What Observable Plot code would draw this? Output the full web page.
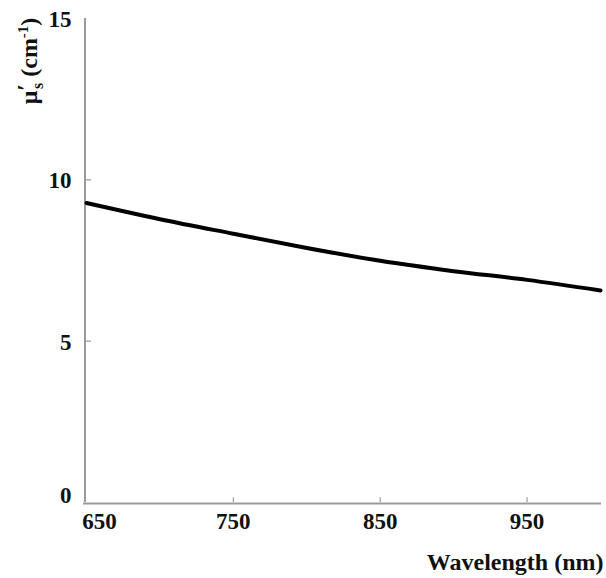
<!DOCTYPE html>
<html>
<head>
<meta charset="utf-8">
<script src="https://cdn.jsdelivr.net/npm/d3@7"></script>
<script src="https://cdn.jsdelivr.net/npm/@observablehq/plot@0.6"></script>
<style>
  html, body { margin: 0; padding: 0; background: #fff; }
  #chart svg { display: block; }
  #chart svg text { font-family: "Liberation Serif", "Times New Roman", "DejaVu Serif", serif !important; }
</style>
</head>
<body>
<div id="chart"></div>
<script>
const wavelength = [650, 700, 750, 800, 850, 900, 950, 1000];
const musPrime   = [9.28, 8.78, 8.33, 7.89, 7.49, 7.17, 6.90, 6.57];
const xTickValues = [750, 850, 950];
const xTickLabels = [650, 750, 850, 950];
const yTickValues = [5, 10];
const yTickLabels = [0, 5, 10, 15];
const xLabel = "Wavelength (nm)";

const data = wavelength.map((w, i) => ({w, v: musPrime[i]}));
const axisColor = "#9a9a9a";
const font = "Liberation Serif, Times New Roman, serif";

const chart = Plot.plot({
  width: 606,
  height: 578,
  marginLeft: 86,
  marginRight: 6,
  marginTop: 18,
  marginBottom: 76,
  style: {fontFamily: font, background: "#fff"},
  x: {domain: [650, 1000], axis: null},
  y: {domain: [0, 15], axis: null},
  marks: [
    Plot.ruleY(yTickValues, {x1: 650, x2: 653.4, y: d => d, stroke: axisColor, strokeWidth: 1.2}),
    Plot.ruleX(xTickValues, {x: d => d, y1: 0, y2: 0.15, stroke: axisColor, strokeWidth: 1.2}),
    Plot.ruleX([650], {y1: 0, y2: 15, stroke: axisColor, strokeWidth: 2, dx: -1.5}),
    Plot.ruleY([0], {x1: 650, x2: 1000, stroke: axisColor, strokeWidth: 2, dy: 1, insetLeft: -3, insetRight: -1}),
    Plot.line(data, {x: "w", y: "v", stroke: "#000", strokeWidth: 4, curve: "monotone-x"}),
    Plot.text(xTickLabels.filter(d => d !== 650), {x: d => d, y: 0, dy: 19, text: d => String(d), fontSize: 23, fontWeight: "bold", fill: "#111", lineAnchor: "middle"}),
    Plot.text(xTickLabels.filter(d => d === 650), {x: d => d, y: 0, dy: 19, dx: 13, text: d => String(d), fontSize: 23, fontWeight: "bold", fill: "#111", lineAnchor: "middle"}),
    Plot.text(yTickLabels.filter(d => d !== 0), {x: 650, y: d => d, dx: -15, dy: 1, text: d => String(d), textAnchor: "end", fontSize: 23, fontWeight: "bold", fill: "#111", lineAnchor: "middle"}),
    Plot.text(yTickLabels.filter(d => d === 0), {x: 650, y: d => d, dx: -15, dy: -7, text: d => String(d), textAnchor: "end", fontSize: 23, fontWeight: "bold", fill: "#111", lineAnchor: "middle"}),
    Plot.text([xLabel], {frameAnchor: "bottom-right", dx: 3, dy: 60, text: d => d, textAnchor: "end", fontSize: 24, fontWeight: "bold", fill: "#111", lineAnchor: "middle"})
  ]
});

document.getElementById("chart").appendChild(chart);

// y-axis label with sub/superscripts
const svg = d3.select(chart);
const t = svg.append("text")
  .attr("transform", "translate(37,61) rotate(-90)")
  .attr("text-anchor", "middle")
  .attr("font-family", font)
  .attr("font-weight", "bold")
  .attr("font-size", 24)
  .attr("fill", "#111");
t.append("tspan").text("\u03bc");
t.append("tspan").attr("dy", -4).attr("font-size", 24).text("\u2032");
t.append("tspan").attr("dx", -5).attr("dy", 10).attr("font-size", 16).text("s");
t.append("tspan").attr("dy", -6).text(" (cm");
t.append("tspan").attr("dy", -9).attr("font-size", 15).text("-1");
t.append("tspan").attr("dy", 9).text(")");
</script>
</body>
</html>
